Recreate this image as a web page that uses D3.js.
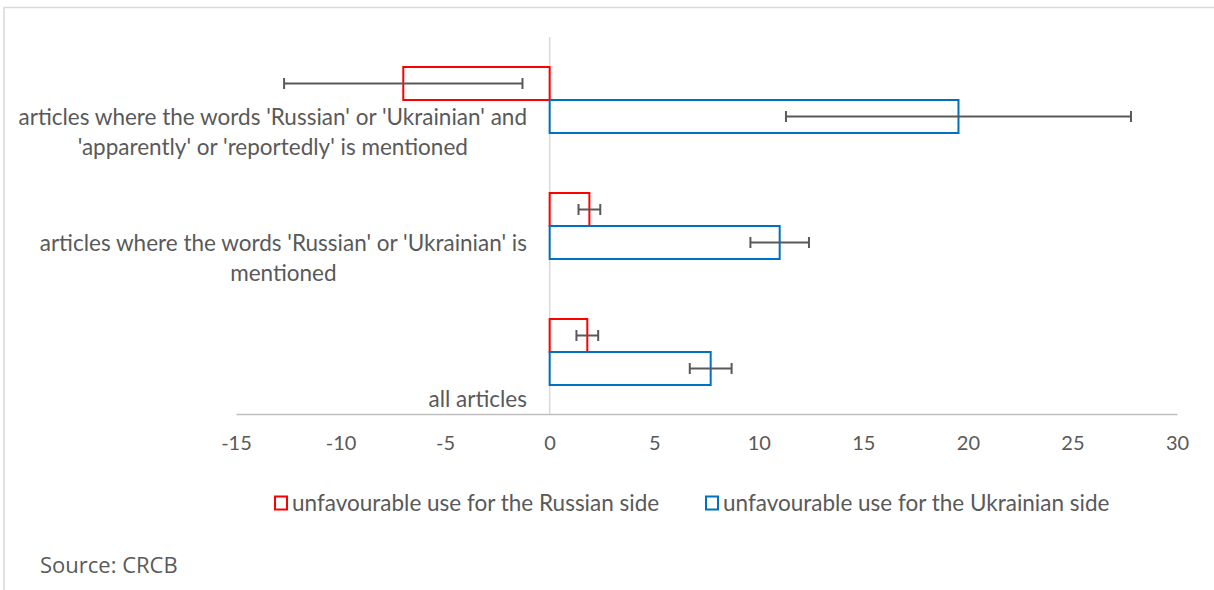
<!DOCTYPE html>
<html>
<head>
<meta charset="utf-8">
<script src="https://cdn.jsdelivr.net/npm/d3@7"></script>
<style>
  body { margin: 0; background: #fff; }
  svg text { font-family: Lato, "Open Sans", sans-serif; fill: #595959; }
</style>
</head>
<body>
<svg id="chart"></svg>
<script>
// chart data
const categories = ['apparently', 'mentioned', 'all'];
const categoryLabels = [
  ["articles where the words 'Russian' or 'Ukrainian' and", "'apparently' or 'reportedly' is mentioned"],
  ["articles where the words 'Russian' or 'Ukrainian' is", "mentioned"],
  ["all articles"]
];
const seriesNames = ['unfavourable use for the Russian side', 'unfavourable use for the Ukrainian side'];
const russianValues = [-7.0, 1.9, 1.8];
const russianErrors = [5.7, 0.52, 0.52];
const ukrainianValues = [19.55, 11.0, 7.7];
const ukrainianErrors = [8.25, 1.4, 1.0];
const xTicks = [-15, -10, -5, 0, 5, 10, 15, 20, 25, 30];

const w = 1214, h = 590;
const svg = d3.select('#chart').attr('width', w).attr('height', h);

// frame lines (the chart box is cropped at right/bottom)
svg.append('path')
  .attr('d', `M4,${h} V7.5 H${w}`)
  .attr('fill', 'none')
  .attr('stroke', '#d9d9d9')
  .attr('stroke-width', 1.5);

const x = d3.scaleLinear().domain([-15, 30]).range([236, 1177]);
const y = d3.scaleBand().domain(categories).range([37, 415]);
const inner = d3.scaleBand().domain(['r', 'u']).range([0, 66]);
const colors = { r: '#ff0000', u: '#0070c0' };

const rows = categories.map((c, i) => ({
  cat: c,
  r: { v: russianValues[i], e: russianErrors[i] },
  u: { v: ukrainianValues[i], e: ukrainianErrors[i] }
}));

// zero line
svg.append('line')
  .attr('x1', x(0)).attr('x2', x(0))
  .attr('y1', 37).attr('y2', 414)
  .attr('stroke', '#d9d9d9').attr('stroke-width', 1.5);

// x axis
const xAxis = svg.append('g')
  .attr('transform', 'translate(0,414)')
  .call(d3.axisBottom(x).tickValues(xTicks).tickSize(0).tickPadding(22).tickFormat(d => String(d)));
xAxis.select('.domain').attr('stroke', '#bfbfbf').attr('stroke-width', 1.5);
xAxis.selectAll('text')
  .style('font-size', '20px')
  .style('font-family', 'Lato, sans-serif')
  .attr('fill', '#595959');

// bars
const groups = svg.selectAll('g.cat')
  .data(rows)
  .enter().append('g')
  .attr('class', 'cat')
  .attr('transform', d => `translate(0,${y(d.cat) + y.bandwidth() / 2 - 33})`);

['r', 'u'].forEach(k => {
  groups.append('rect')
    .attr('x', d => x(Math.min(0, d[k].v)))
    .attr('y', inner(k))
    .attr('width', d => Math.abs(x(d[k].v) - x(0)))
    .attr('height', inner.bandwidth())
    .attr('fill', 'none')
    .attr('stroke', colors[k])
    .attr('stroke-width', 2);
});

// error bars
['r', 'u'].forEach(k => {
  const cy = inner(k) + inner.bandwidth() / 2;
  const eg = groups.append('g').attr('stroke', '#595959').attr('stroke-width', 2);
  eg.append('line')
    .attr('x1', d => x(d[k].v - d[k].e)).attr('x2', d => x(d[k].v + d[k].e))
    .attr('y1', cy).attr('y2', cy);
  eg.append('line')
    .attr('x1', d => x(d[k].v - d[k].e)).attr('x2', d => x(d[k].v - d[k].e))
    .attr('y1', cy - 5.5).attr('y2', cy + 5.5);
  eg.append('line')
    .attr('x1', d => x(d[k].v + d[k].e)).attr('x2', d => x(d[k].v + d[k].e))
    .attr('y1', cy - 5.5).attr('y2', cy + 5.5);
});

// category labels, lines centred on each other, widest line right-aligned
categories.forEach((c, i) => {
  const lines = categoryLabels[i];
  const bottom = y(c) + y.bandwidth();
  const t = svg.append('text')
    .style('font-size', '22.5px')
    .attr('text-anchor', 'middle');
  lines.forEach((ln, j) => {
    t.append('tspan')
      .attr('y', bottom - 16 - (lines.length - 1 - j) * 30)
      .attr('dy', '0.35em')
      .text(ln);
  });
  const widths = t.selectAll('tspan').nodes().map(n => n.getComputedTextLength());
  const maxW = d3.max(widths);
  t.selectAll('tspan').attr('x', 527 - maxW / 2);
});

// legend
const legend = svg.append('g').attr('transform', 'translate(0,503)');
const legendX = [274, 705];
seriesNames.forEach((name, i) => {
  const k = i === 0 ? 'r' : 'u';
  legend.append('rect')
    .attr('x', legendX[i] + 1).attr('y', -6.5)
    .attr('width', 12).attr('height', 13)
    .attr('fill', 'none')
    .attr('stroke', colors[k]).attr('stroke-width', 2);
  legend.append('text')
    .attr('x', legendX[i] + 18).attr('y', 0)
    .attr('dy', '0.35em')
    .style('font-size', '22.5px')
    .text(name);
});

// source note
svg.append('text')
  .attr('x', 40).attr('y', 565)
  .attr('dy', '0.35em')
  .style('font-family', '"Open Sans", sans-serif')
  .style('font-size', '22px')
  .text('Source: CRCB');
</script>
</body>
</html>
